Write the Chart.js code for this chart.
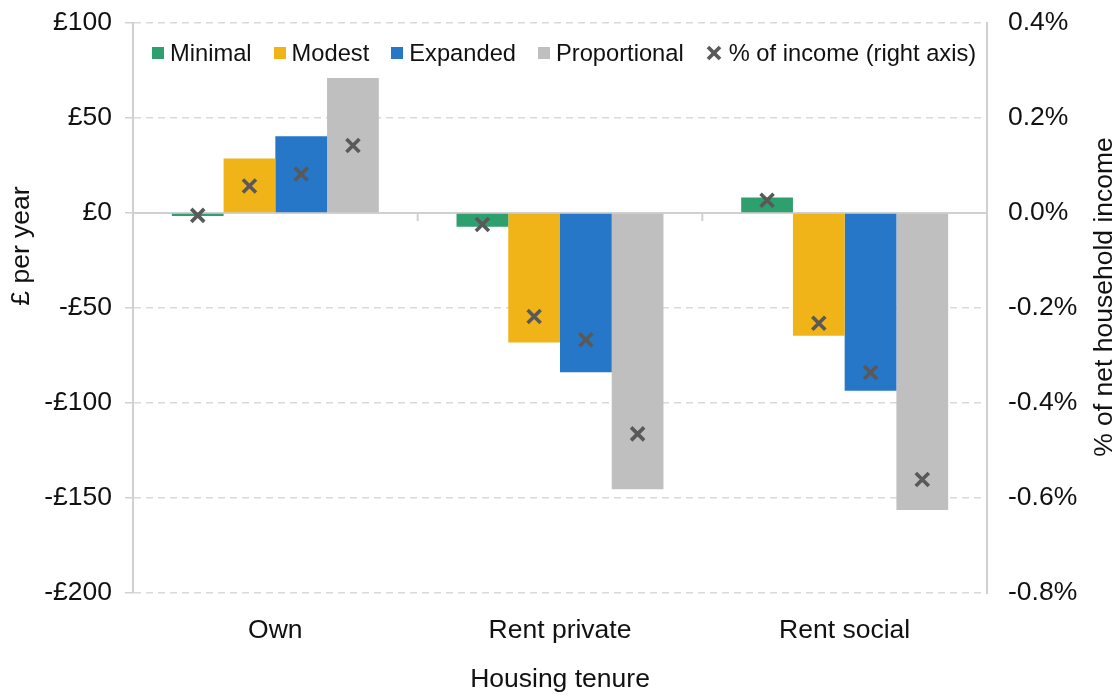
<!DOCTYPE html>
<html lang="en">
<head>
    <meta charset="UTF-8">
    <title>Housing tenure</title>
    <style>
        body {
            margin: 0;
            padding: 0;
            background-color: #fff;
            font-family: 'Liberation Sans', Arial, sans-serif;
        }
        .wrap {
            position: relative;
            width: 1120px;
            height: 695px;
        }
        .legend {
            position: absolute;
            left: 152px;
            top: 38px;
            height: 30px;
            display: flex;
            align-items: center;
            font-size: 23.7px;
            color: #111;
        }
        .legend-item {
            display: flex;
            align-items: center;
            margin-right: 22px;
        }
        .swatch {
            width: 12px;
            height: 12px;
            margin-right: 6px;
        }
        .legend svg {
            margin-right: 7px;
        }
    </style>
</head>
<body>
    <div class="wrap">
        <canvas id="barChart" width="1120" height="695"></canvas>
        <div class="legend" id="legend"></div>
    </div>
    <script src="https://cdn.jsdelivr.net/npm/chart.js"></script>
    <script>
        // data
        const categories = ['Own', 'Rent private', 'Rent social'];
        const seriesNames = ['Minimal', 'Modest', 'Expanded', 'Proportional'];
        const seriesColors = ['#2e9f6e', '#f0b418', '#2677c7', '#bfbfbf'];

        const minimal = [-1.6, -7.2, 8.1];
        const modest = [28.7, -68.2, -64.6];
        const expanded = [40.4, -83.8, -93.5];
        const proportional = [71.0, -145.4, -156.3];

        // % of net household income (right axis)
        const pctMinimal = [-0.005, -0.024, 0.027];
        const pctModest = [0.057, -0.218, -0.232];
        const pctExpanded = [0.082, -0.267, -0.336];
        const pctProportional = [0.142, -0.465, -0.561];

        const leftTickValues = [100, 50, 0, -50, -100, -150, -200];
        const leftTickLabels = ['£100', '£50', '£0', '-£50', '-£100', '-£150', '-£200'];
        const rightTickValues = [0.4, 0.2, 0, -0.2, -0.4, -0.6, -0.8];
        const rightTickLabels = ['0.4%', '0.2%', '0.0%', '-0.2%', '-0.4%', '-0.6%', '-0.8%'];

        const barSeries = [minimal, modest, expanded, proportional];
        const pctSeries = [pctMinimal, pctModest, pctExpanded, pctProportional];
        const markerName = '% of income (right axis)';
        const markerColor = '#595959';

        const fontFamily = "'Liberation Sans', Arial, sans-serif";
        const axisFont = { family: fontFamily, size: 26.5 };
        const gridColor = '#d9d9d9';
        const axisColor = '#d0d0d0';

        function tickLabel(values, labels, v) {
            const i = values.findIndex(t => Math.abs(t - v) < 1e-9);
            return i >= 0 ? labels[i] : '';
        }

        // fixed box for the side axes so the plot area lines up with the reference
        function fitSide(s) {
            s.width = 133;
            s.paddingTop = 0;
            s.paddingBottom = 0;
        }

        function buildLegend() {
            const box = document.getElementById('legend');
            seriesNames.forEach((name, j) => {
                const item = document.createElement('div');
                item.className = 'legend-item';
                item.innerHTML = `<span class="swatch" style="background:${seriesColors[j]}"></span>${name}`;
                box.appendChild(item);
            });
            const item = document.createElement('div');
            item.className = 'legend-item';
            item.innerHTML = `<svg width="16" height="16" viewBox="0 0 16 16">
                <line x1="2" y1="2" x2="14" y2="14" stroke="${markerColor}" stroke-width="3.8"/>
                <line x1="14" y1="2" x2="2" y2="14" stroke="${markerColor}" stroke-width="3.8"/>
            </svg>${markerName}`;
            box.appendChild(item);
        }

        // zero line, category ticks, % markers and axis titles
        const extras = {
            id: 'extras',
            beforeDatasetsDraw(chart) {
                const { ctx, chartArea, scales } = chart;
                const y0 = scales.y.getPixelForValue(0);
                ctx.save();
                ctx.strokeStyle = axisColor;
                ctx.lineWidth = 2;
                ctx.beginPath();
                ctx.moveTo(chartArea.left, y0);
                ctx.lineTo(chartArea.right, y0);
                for (let i = 0; i < categories.length - 1; i++) {
                    const xb = (scales.x.getPixelForTick(i) + scales.x.getPixelForTick(i + 1)) / 2;
                    ctx.moveTo(xb, y0);
                    ctx.lineTo(xb, y0 + 8);
                }
                ctx.stroke();
                ctx.restore();
            },
            afterDatasetsDraw(chart) {
                const { ctx, scales } = chart;
                ctx.save();
                ctx.strokeStyle = markerColor;
                ctx.lineWidth = 3.6;
                const r = 6.5;
                pctSeries.forEach((vals, j) => {
                    const meta = chart.getDatasetMeta(j);
                    vals.forEach((v, i) => {
                        const x = meta.data[i].x;
                        const y = scales.y1.getPixelForValue(v);
                        ctx.beginPath();
                        ctx.moveTo(x - r, y - r);
                        ctx.lineTo(x + r, y + r);
                        ctx.moveTo(x + r, y - r);
                        ctx.lineTo(x - r, y + r);
                        ctx.stroke();
                    });
                });
                ctx.restore();
            },
            afterDraw(chart) {
                const { ctx, chartArea } = chart;
                ctx.save();
                ctx.fillStyle = '#111';
                ctx.font = `26.5px ${fontFamily}`;
                ctx.textAlign = 'center';
                ctx.textBaseline = 'middle';
                ctx.fillText('Housing tenure', (chartArea.left + chartArea.right) / 2, 680);

                ctx.save();
                ctx.translate(22, 246);
                ctx.rotate(-Math.PI / 2);
                ctx.fillText('£ per year', 0, 0);
                ctx.restore();

                ctx.save();
                ctx.translate(1105, 297);
                ctx.rotate(-Math.PI / 2);
                ctx.fillText('% of net household income', 0, 0);
                ctx.restore();
                ctx.restore();
            }
        };

        function createChart() {
            const ctx = document.getElementById('barChart').getContext('2d');
            new Chart(ctx, {
                type: 'bar',
                data: {
                    labels: categories,
                    datasets: seriesNames.map((name, j) => ({
                        label: name,
                        data: barSeries[j],
                        backgroundColor: seriesColors[j],
                        borderWidth: 0,
                        yAxisID: 'y'
                    }))
                },
                options: {
                    responsive: false,
                    animation: false,
                    devicePixelRatio: 1,
                    layout: { padding: { top: 23, left: 0, right: 0, bottom: 0 } },
                    datasets: {
                        bar: { categoryPercentage: 0.727, barPercentage: 1.0 }
                    },
                    plugins: {
                        legend: { display: false },
                        tooltip: { enabled: false }
                    },
                    scales: {
                        x: {
                            grid: { display: false },
                            border: { display: false },
                            ticks: { color: '#111', font: axisFont, padding: 14 },
                            afterFit: s => { s.height = 102; }
                        },
                        y: {
                            position: 'left',
                            min: -200,
                            max: 100,
                            ticks: {
                                stepSize: 50,
                                color: '#111',
                                font: axisFont,
                                padding: 13,
                                callback: v => tickLabel(leftTickValues, leftTickLabels, v)
                            },
                            grid: {
                                color: c => (c.tick && c.tick.value === 0) ? 'rgba(0,0,0,0)' : gridColor,
                                lineWidth: 1.5,
                                tickLength: 8,
                                tickColor: axisColor
                            },
                            border: { display: true, color: axisColor, width: 2, dash: [7, 5] },
                            afterFit: fitSide
                        },
                        y1: {
                            position: 'right',
                            min: -0.8,
                            max: 0.4,
                            ticks: {
                                stepSize: 0.2,
                                color: '#111',
                                font: axisFont,
                                padding: 21,
                                callback: v => tickLabel(rightTickValues, rightTickLabels, v)
                            },
                            grid: { drawOnChartArea: false, drawTicks: false },
                            border: { display: true, color: axisColor, width: 2 },
                            afterFit: fitSide
                        }
                    }
                },
                plugins: [extras]
            });
        }

        document.addEventListener('DOMContentLoaded', () => {
            buildLegend();
            createChart();
        });
    </script>
</body>
</html>
